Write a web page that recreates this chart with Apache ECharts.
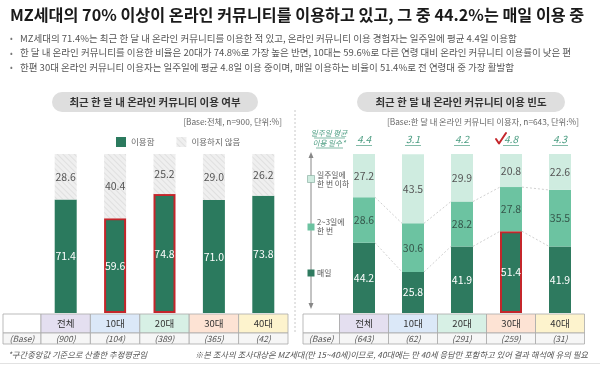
<!DOCTYPE html>
<html><head><meta charset="utf-8">
<script src="https://cdn.jsdelivr.net/npm/echarts@6/dist/echarts.min.js"></script>
<style>html,body{margin:0;padding:0;background:#fff}#c{width:600px;height:366px}</style>
</head><body><div id="c"></div>
<script>
// ---------- data ----------
const categories = ['전체', '10대', '20대', '30대', '40대'];
const usedPct = [71.4, 59.6, 74.8, 71.0, 73.8];
const notUsedPct = [28.6, 40.4, 25.2, 29.0, 26.2];
const leftBase = ['(900)', '(104)', '(389)', '(365)', '(42)'];
const dailyPct = [44.2, 25.8, 41.9, 51.4, 41.9];
const twoThreePct = [28.6, 30.6, 28.2, 27.8, 35.5];
const weeklyPct = [27.2, 43.5, 29.9, 20.8, 22.6];
const rightBase = ['(643)', '(62)', '(291)', '(259)', '(31)'];
const avgDays = ['4.4', '3.1', '4.2', '4.8', '4.3'];
const leftHighlight = ['10대', '20대'];
const rightHighlight = ['30대'];
const checkedCategory = '30대';
const titleText = 'MZ세대의 70% 이상이 온라인 커뮤니티를 이용하고 있고, 그 중 44.2%는 매일 이용 중';
const bullets = [
  'MZ세대의 71.4%는 최근 한 달 내 온라인 커뮤니티를 이용한 적 있고, 온라인 커뮤니티 이용 경험자는 일주일에 평균 4.4일 이용함',
  '한 달 내 온라인 커뮤니티를 이용한 비율은 20대가 74.8%로 가장 높은 반면, 10대는 59.6%로 다른 연령 대비 온라인 커뮤니티 이용률이 낮은 편',
  '한편 30대 온라인 커뮤니티 이용자는 일주일에 평균 4.8일 이용 중이며, 매일 이용하는 비율이 51.4%로 전 연령대 중 가장 활발함'
];

// ---------- styles ----------
const FONT = '"Noto Sans CJK KR", "Noto Sans", sans-serif';
const headerFill = ['#e4dff0', '#dbe8f8', '#d7f0e5', '#fde3d4', '#fdf3cd'];
const RED = '#c4262b';
const hl = () => ({ borderColor: RED, borderWidth: 2 });
const fmt = (p) => Number(p.value).toFixed(1);

const chart = echarts.init(document.getElementById('c'));

const baseLabel = { show: true, fontFamily: FONT, fontSize: 10.5 };

chart.setOption({
  animation: false,
  grid: [
    { left: 41, top: 154, width: 247, height: 159 },
    { left: 339.5, top: 154, width: 245, height: 159 }
  ],
  xAxis: [
    { type: 'category', gridIndex: 0, data: categories, show: false },
    { type: 'category', gridIndex: 1, data: categories, show: false }
  ],
  yAxis: [
    { type: 'value', gridIndex: 0, min: 0, max: 100, show: false },
    { type: 'value', gridIndex: 1, min: 0, max: 100, show: false }
  ],
  legend: {
    data: ['이용함', '이용하지 않음'],
    left: 111, top: 132, icon: 'rect', itemWidth: 10, itemHeight: 10, itemGap: 22,
    textStyle: { fontFamily: FONT, fontSize: 8.5, color: '#666' }
  },
  series: [
    {
      type: 'bar', name: '이용함', xAxisIndex: 0, yAxisIndex: 0, stack: 'L', barWidth: 22,
      itemStyle: { color: '#2b7a5e' },
      label: Object.assign({}, baseLabel, { color: '#fff', formatter: fmt }),
      data: usedPct.map((v, i) => leftHighlight.includes(categories[i]) ? { value: v, itemStyle: hl() } : v)
    },
    {
      type: 'bar', name: '이용하지 않음', xAxisIndex: 0, yAxisIndex: 0, stack: 'L', barWidth: 22,
      itemStyle: {
        color: '#efefef',
        decal: { symbol: 'rect', symbolSize: 1, dashArrayX: [1, 0], dashArrayY: [1, 3], rotation: Math.PI / 4, color: 'rgba(170,170,170,0.22)' }
      },
      label: Object.assign({}, baseLabel, { color: '#555', formatter: fmt }),
      data: notUsedPct
    },
    {
      type: 'bar', name: '매일', xAxisIndex: 1, yAxisIndex: 1, stack: 'R', barWidth: 22,
      itemStyle: { color: '#2e7a5f' },
      label: Object.assign({}, baseLabel, { color: '#fff', formatter: fmt }),
      data: dailyPct.map((v, i) => rightHighlight.includes(categories[i]) ? { value: v, itemStyle: hl() } : v)
    },
    {
      type: 'bar', name: '2~3일에 한 번', xAxisIndex: 1, yAxisIndex: 1, stack: 'R', barWidth: 22,
      itemStyle: { color: '#6cc3a1' },
      label: Object.assign({}, baseLabel, { color: '#35574b', formatter: fmt }),
      data: twoThreePct
    },
    {
      type: 'bar', name: '일주일에 한 번 이하', xAxisIndex: 1, yAxisIndex: 1, stack: 'R', barWidth: 22,
      itemStyle: { color: '#cfece0' },
      label: Object.assign({}, baseLabel, { color: '#555', formatter: fmt }),
      data: weeklyPct
    }
  ]
});

// ---------- decorations built through the axes ----------
const px = (g, i, v) => chart.convertToPixel({ gridIndex: g }, [i, v]);
const els = [];
const txt = (x, y, text, st) => els.push({ type: 'text', x, y, silent: true,
  style: Object.assign({ text, fontFamily: FONT, fontSize: 9, fill: '#444', textAlign: 'left', textVerticalAlign: 'middle' }, st) });
const line = (x1, y1, x2, y2, st) => els.push({ type: 'line', silent: true, shape: { x1, y1, x2, y2 }, style: Object.assign({ stroke: '#aaa', lineWidth: 1 }, st) });
const rect = (x, y, w, h, st, r) => els.push({ type: 'rect', silent: true, shape: { x, y, width: w, height: h, r: r || 0 }, style: st });

// title and bullets
txt(10, 15, titleText, { fontSize: 16.2, fontWeight: 'bold', fill: '#1a1a1a' });
bullets.forEach((b, k) => {
  const y = 38 + k * 14.6;
  txt(10, y, '•', { fontSize: 8, fill: '#777' });
  txt(20, y, b, { fontSize: 9.5, fill: '#555' });
});

// panel headers
rect(52, 92, 206, 20, { fill: '#dedede' }, 10);
txt(155, 102, '최근 한 달 내 온라인 커뮤니티 이용 여부', { fontSize: 10.5, fontWeight: 'bold', fill: '#333', textAlign: 'center' });
rect(357, 92, 208, 20, { fill: '#dedede' }, 10);
txt(461, 102, '최근 한 달 내 온라인 커뮤니티 이용 빈도', { fontSize: 10.5, fontWeight: 'bold', fill: '#333', textAlign: 'center' });
txt(282, 122, '[Base:전체, n=900, 단위:%]', { fontSize: 8.3, fill: '#666', textAlign: 'right' });
txt(579, 122, '[Base:한 달 내 온라인 커뮤니티 이용자, n=643, 단위:%]', { fontSize: 8.3, fill: '#666', textAlign: 'right' });

// divider
line(295, 110, 295, 334, { stroke: '#c8c8c8', lineDash: [2, 2] });

// tables
function table(g, tableLeft, baseArr) {
  const c0 = px(g, 0, 0), c1 = px(g, 1, 0);
  const band = c1[0] - c0[0];
  const gridLeft = c0[0] - band / 2;
  const yTop = c0[1] + 1, yMid = yTop + 19;
  rect(tableLeft, yTop, gridLeft - tableLeft, 19, { fill: '#fff', stroke: '#aaa', lineWidth: 0.8 });
  rect(tableLeft, yMid, gridLeft - tableLeft, 11, { fill: '#f6f6f6', stroke: '#aaa', lineWidth: 0.8 });
  txt((tableLeft + gridLeft) / 2, yMid + 5.5, '(Base)', { fontSize: 8.5, fontStyle: 'italic', fill: '#555', textAlign: 'center' });
  categories.forEach((cat, i) => {
    const cx = px(g, i, 0)[0];
    rect(cx - band / 2, yTop, band, 19, { fill: headerFill[i], stroke: '#aaa', lineWidth: 0.8 });
    rect(cx - band / 2, yMid, band, 11, { fill: '#f6f6f6', stroke: '#aaa', lineWidth: 0.8 });
    txt(cx, yTop + 9.5, cat, { fontSize: 9.5, fill: '#333', textAlign: 'center' });
    txt(cx, yMid + 5.5, baseArr[i], { fontSize: 8.5, fontStyle: 'italic', fill: '#555', textAlign: 'center' });
  });
}
table(0, 3, leftBase);
table(1, 303, rightBase);

// connectors between right bars
const halfBar = 11;
const levels = [dailyPct, dailyPct.map((v, i) => v + twoThreePct[i])];
levels.forEach(lv => {
  for (let i = 0; i < categories.length - 1; i++) {
    const a = px(1, i, lv[i]), b = px(1, i + 1, lv[i + 1]);
    line(a[0] + halfBar, a[1], b[0] - halfBar, b[1], { stroke: '#c4c4c4', lineDash: [2, 2], lineWidth: 0.8 });
  }
});

// average days row
const teal = '#4c9d82';
txt(329, 133, '일주일 평균', { fontSize: 7.6, fontStyle: 'italic', fill: teal, textAlign: 'center' });
line(314, 138, 345, 138, { stroke: teal, lineWidth: 0.7 });
txt(329, 143, '이용 일수*', { fontSize: 7.6, fontStyle: 'italic', fill: teal, textAlign: 'center' });
line(316, 148, 343, 148, { stroke: teal, lineWidth: 0.7 });
avgDays.forEach((d, i) => {
  const cx = px(1, i, 100)[0];
  txt(cx, 139, d, { fontSize: 10, fontStyle: 'italic', fill: teal, textAlign: 'center' });
  line(cx - 8, 145.5, cx + 8, 145.5, { stroke: teal, lineWidth: 0.7 });
  if (categories[i] === checkedCategory) {
    els.push({ type: 'polyline', silent: true, shape: { points: [[cx - 15, 139], [cx - 12, 143.5], [cx - 5, 133]] },
      style: { stroke: RED, lineWidth: 2, fill: null, lineJoin: 'round', lineCap: 'round' } });
  }
});

// right legend axis
line(311, 156, 311, 305, { stroke: '#888', lineWidth: 1 });
els.push({ type: 'polygon', silent: true, shape: { points: [[311, 152], [308.5, 158], [313.5, 158]] }, style: { fill: '#888' } });
els.push({ type: 'polygon', silent: true, shape: { points: [[311, 309], [308.5, 303], [313.5, 303]] }, style: { fill: '#888' } });
rect(307.5, 175.5, 7, 7, { fill: '#cfece0', stroke: '#7fa898', lineWidth: 0.6 });
rect(307.5, 223.5, 7, 7, { fill: '#6cc3a1' });
rect(307.5, 269.5, 7, 7, { fill: '#2e7a5f' });
const lgs = { fontSize: 7.8, fill: '#555' };
txt(317, 175, '일주일에', lgs);
txt(317, 184, '한 번 이하', lgs);
txt(317, 222, '2~3일에', lgs);
txt(317, 231, '한 번', lgs);
txt(317, 273, '매일', lgs);

// footnotes
txt(8, 355, '*구간중앙값 기준으로 산출한 추정평균임', { fontSize: 8.3, fontStyle: 'italic', fill: '#555' });
txt(588, 355, '※본 조사의 조사대상은 MZ세대(만 15~40세)이므로, 40대에는 만 40세 응답만 포함하고 있어 결과 해석에 유의 필요', { fontSize: 8.3, fontStyle: 'italic', fill: '#555', textAlign: 'right' });
line(0, 363.5, 600, 363.5, { stroke: '#e2e2e2' });

chart.setOption({ graphic: { elements: els } });
</script>
</body></html>
